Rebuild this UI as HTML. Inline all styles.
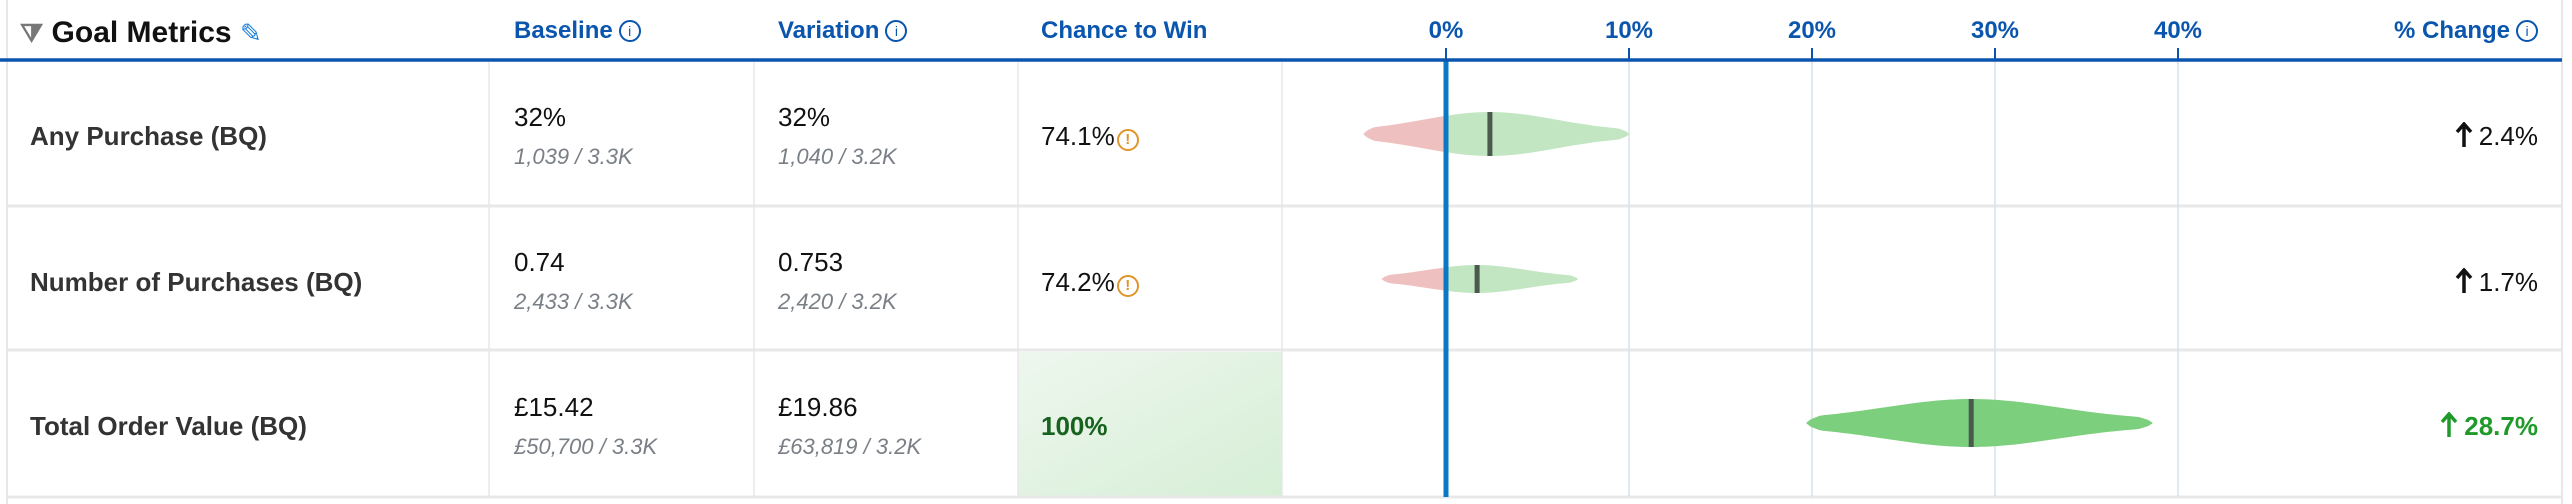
<!DOCTYPE html>
<html><head><meta charset="utf-8"><style>
body{margin:0;width:2572px;height:504px;background:#fff;font-family:"Liberation Sans",sans-serif;position:relative;overflow:hidden}
.a{position:absolute;white-space:nowrap}
.h{color:#0a55ad;font-weight:bold;font-size:24px;top:17px}
.name{font-size:26px;font-weight:bold;color:#333;left:30px}
.val{font-size:26px;color:#111}
.sub{font-size:22px;font-style:italic;color:#7a7f86}
.info{display:inline-block;width:18px;height:18px;border:2px solid #0a55ad;border-radius:50%;font-size:14px;text-align:center;line-height:18px;vertical-align:2px;margin-left:6px;font-weight:normal}
.warn{display:inline-block;width:18px;height:18px;border:2px solid #e0952a;border-radius:50%;font-size:15px;color:#e0952a;text-align:center;line-height:18px;vertical-align:1px;margin-left:2px;font-weight:bold}
.arr{vertical-align:-3px;margin-right:6px}
</style></head><body>
<svg class="a" style="left:0;top:0" width="2572" height="504">
<defs><linearGradient id="g" x1="0" y1="0" x2="1" y2="1"><stop offset="0" stop-color="#eef7ee"/><stop offset="1" stop-color="#d6eed6"/></linearGradient></defs>
<rect x="1018" y="352" width="264" height="144" fill="url(#g)"/>
<line x1="7" y1="0" x2="7" y2="504" stroke="#e5e7eb" stroke-width="2"/>
<line x1="2562" y1="0" x2="2562" y2="504" stroke="#e5e7eb" stroke-width="2"/>
<g stroke="#e5e7eb" stroke-width="1.5"><line x1="489" y1="62" x2="489" y2="497"/><line x1="754" y1="62" x2="754" y2="497"/><line x1="1018" y1="62" x2="1018" y2="497"/><line x1="1282" y1="62" x2="1282" y2="497"/></g>
<g stroke="#e8e8e8" stroke-width="3"><line x1="7" y1="206" x2="2562" y2="206"/><line x1="7" y1="350" x2="2562" y2="350"/><line x1="7" y1="497" x2="2562" y2="497"/></g>
<g id="chart"></g>
<line x1="0" y1="60" x2="2562" y2="60" stroke="#0a55ad" stroke-width="3.5"/>
</svg>
<div class="a" style="left:20px;top:16px;font-size:30px;font-weight:bold;color:#111"><span style="color:#777;font-size:26px">⧩</span> Goal Metrics <span style="color:#1a7fd8;font-size:26px;font-weight:normal">✎</span></div>
<div class="a h" style="left:514px">Baseline<span class="info">i</span></div>
<div class="a h" style="left:778px">Variation<span class="info">i</span></div>
<div class="a h" style="left:1041px">Chance to Win</div>
<div class="a h" style="right:34px">% Change<span class="info">i</span></div>

<div class="a name" style="top:121px">Any Purchase (BQ)</div>
<div class="a val" style="left:514px;top:102px">32%</div><div class="a sub" style="left:514px;top:144px">1,039 / 3.3K</div>
<div class="a val" style="left:778px;top:102px">32%</div><div class="a sub" style="left:778px;top:144px">1,040 / 3.2K</div>
<div class="a val" style="left:1041px;top:121px">74.1%<span class="warn">!</span></div>
<div class="a val" style="right:34px;top:121px"><svg class="arr" width="18" height="26" viewBox="0 0 18 26"><path d="M9 25V3M2 10L9 2L16 10" stroke="#111" stroke-width="3.5" fill="none"/></svg>2.4%</div>

<div class="a name" style="top:267px">Number of Purchases (BQ)</div>
<div class="a val" style="left:514px;top:247px">0.74</div><div class="a sub" style="left:514px;top:289px">2,433 / 3.3K</div>
<div class="a val" style="left:778px;top:247px">0.753</div><div class="a sub" style="left:778px;top:289px">2,420 / 3.2K</div>
<div class="a val" style="left:1041px;top:267px">74.2%<span class="warn">!</span></div>
<div class="a val" style="right:34px;top:267px"><svg class="arr" width="18" height="26" viewBox="0 0 18 26"><path d="M9 25V3M2 10L9 2L16 10" stroke="#111" stroke-width="3.5" fill="none"/></svg>1.7%</div>

<div class="a name" style="top:411px">Total Order Value (BQ)</div>
<div class="a val" style="left:514px;top:392px">£15.42</div><div class="a sub" style="left:514px;top:434px">£50,700 / 3.3K</div>
<div class="a val" style="left:778px;top:392px">£19.86</div><div class="a sub" style="left:778px;top:434px">£63,819 / 3.2K</div>
<div class="a val" style="left:1041px;top:411px;color:#17621f;font-weight:bold">100%</div>
<div class="a val" style="right:34px;top:411px;color:#1f9a2a;font-weight:bold"><svg class="arr" width="18" height="26" viewBox="0 0 18 26"><path d="M9 25V3M2 10L9 2L16 10" stroke="#1f9a2a" stroke-width="3.5" fill="none"/></svg>28.7%</div>

<script>
const ticks=[0,10,20,30,40];
const metrics=["Any Purchase","Number of Purchases","Total Order Value"];
const lows=[-4.5,-3.5,19.7];
const highs=[10,7.2,38.6];
const medians=[2.4,1.7,28.7];
const rowCenters=[134,279,423];
const halfHeights=[22,14,24];
const X=v=>1446+v*18.3;
const NS="http://www.w3.org/2000/svg";
const g=document.getElementById('chart');
function mk(t,a){const e=document.createElementNS(NS,t);for(const k in a)e.setAttribute(k,a[k]);g.appendChild(e);return e;}
ticks.forEach(t=>{
 const l=mk('line',{x1:X(t),x2:X(t),y1:48,y2:497,stroke:t===0?'none':'#d6e2ee','stroke-width':1.5});
 
 
 mk('line',{x1:X(t),x2:X(t),y1:48,y2:60,stroke:'#0a55ad','stroke-width':2});
 const tx=mk('text',{x:X(t),y:38,'text-anchor':'middle','font-size':24,'font-weight':'bold',fill:'#0a55ad','font-family':'Liberation Sans'});
 tx.textContent=t+'%';
 
 
});
metrics.forEach((m,i)=>{
 const lo=lows[i],hi=highs[i],md=medians[i],cy=rowCenters[i],hh=halfHeights[i];
 const sd=(hi-lo)/4,N=80;let top=[],bot=[];
 for(let k=0;k<=N;k++){const v=lo+(hi-lo)*k/N;const z=(v-md)/sd;
  const e=Math.min(k,N-k)/N;const cap=Math.sqrt(Math.min(1,e*25));
  const w=Math.max(hh*(0.12+0.88*Math.exp(-z*z/2))*cap,0.5);
  top.push(X(v)+','+(cy-w));bot.unshift(X(v)+','+(cy+w));}
 const d='M'+top.join(' L')+' L'+bot.join(' L')+'Z';
 const id='c'+i;
 const cp=mk('clipPath',{id:id+'n'});const r1=document.createElementNS(NS,'rect');r1.setAttribute('x',0);r1.setAttribute('y',0);r1.setAttribute('width',X(0));r1.setAttribute('height',504);cp.appendChild(r1);
 const cp2=mk('clipPath',{id:id+'p'});const r2=document.createElementNS(NS,'rect');r2.setAttribute('x',X(0));r2.setAttribute('y',0);r2.setAttribute('width',2572);r2.setAttribute('height',504);cp2.appendChild(r2);
 const neg=mk('path',{d:d,fill:'#efc0c0','clip-path':'url(#'+id+'n)'});
 
 
 const pos=mk('path',{d:d,fill:lo>0?'#7ccf7c':'#c2e6c2','clip-path':'url(#'+id+'p)'});
 
 
 const mdl=mk('line',{x1:X(md),x2:X(md),y1:cy-hh,y2:cy+hh,stroke:'#4a5a4c','stroke-width':5});
 
 
});
const z=mk('line',{x1:X(0),x2:X(0),y1:60,y2:497,stroke:'#0a78c2','stroke-width':5});


</script>
</body></html>
